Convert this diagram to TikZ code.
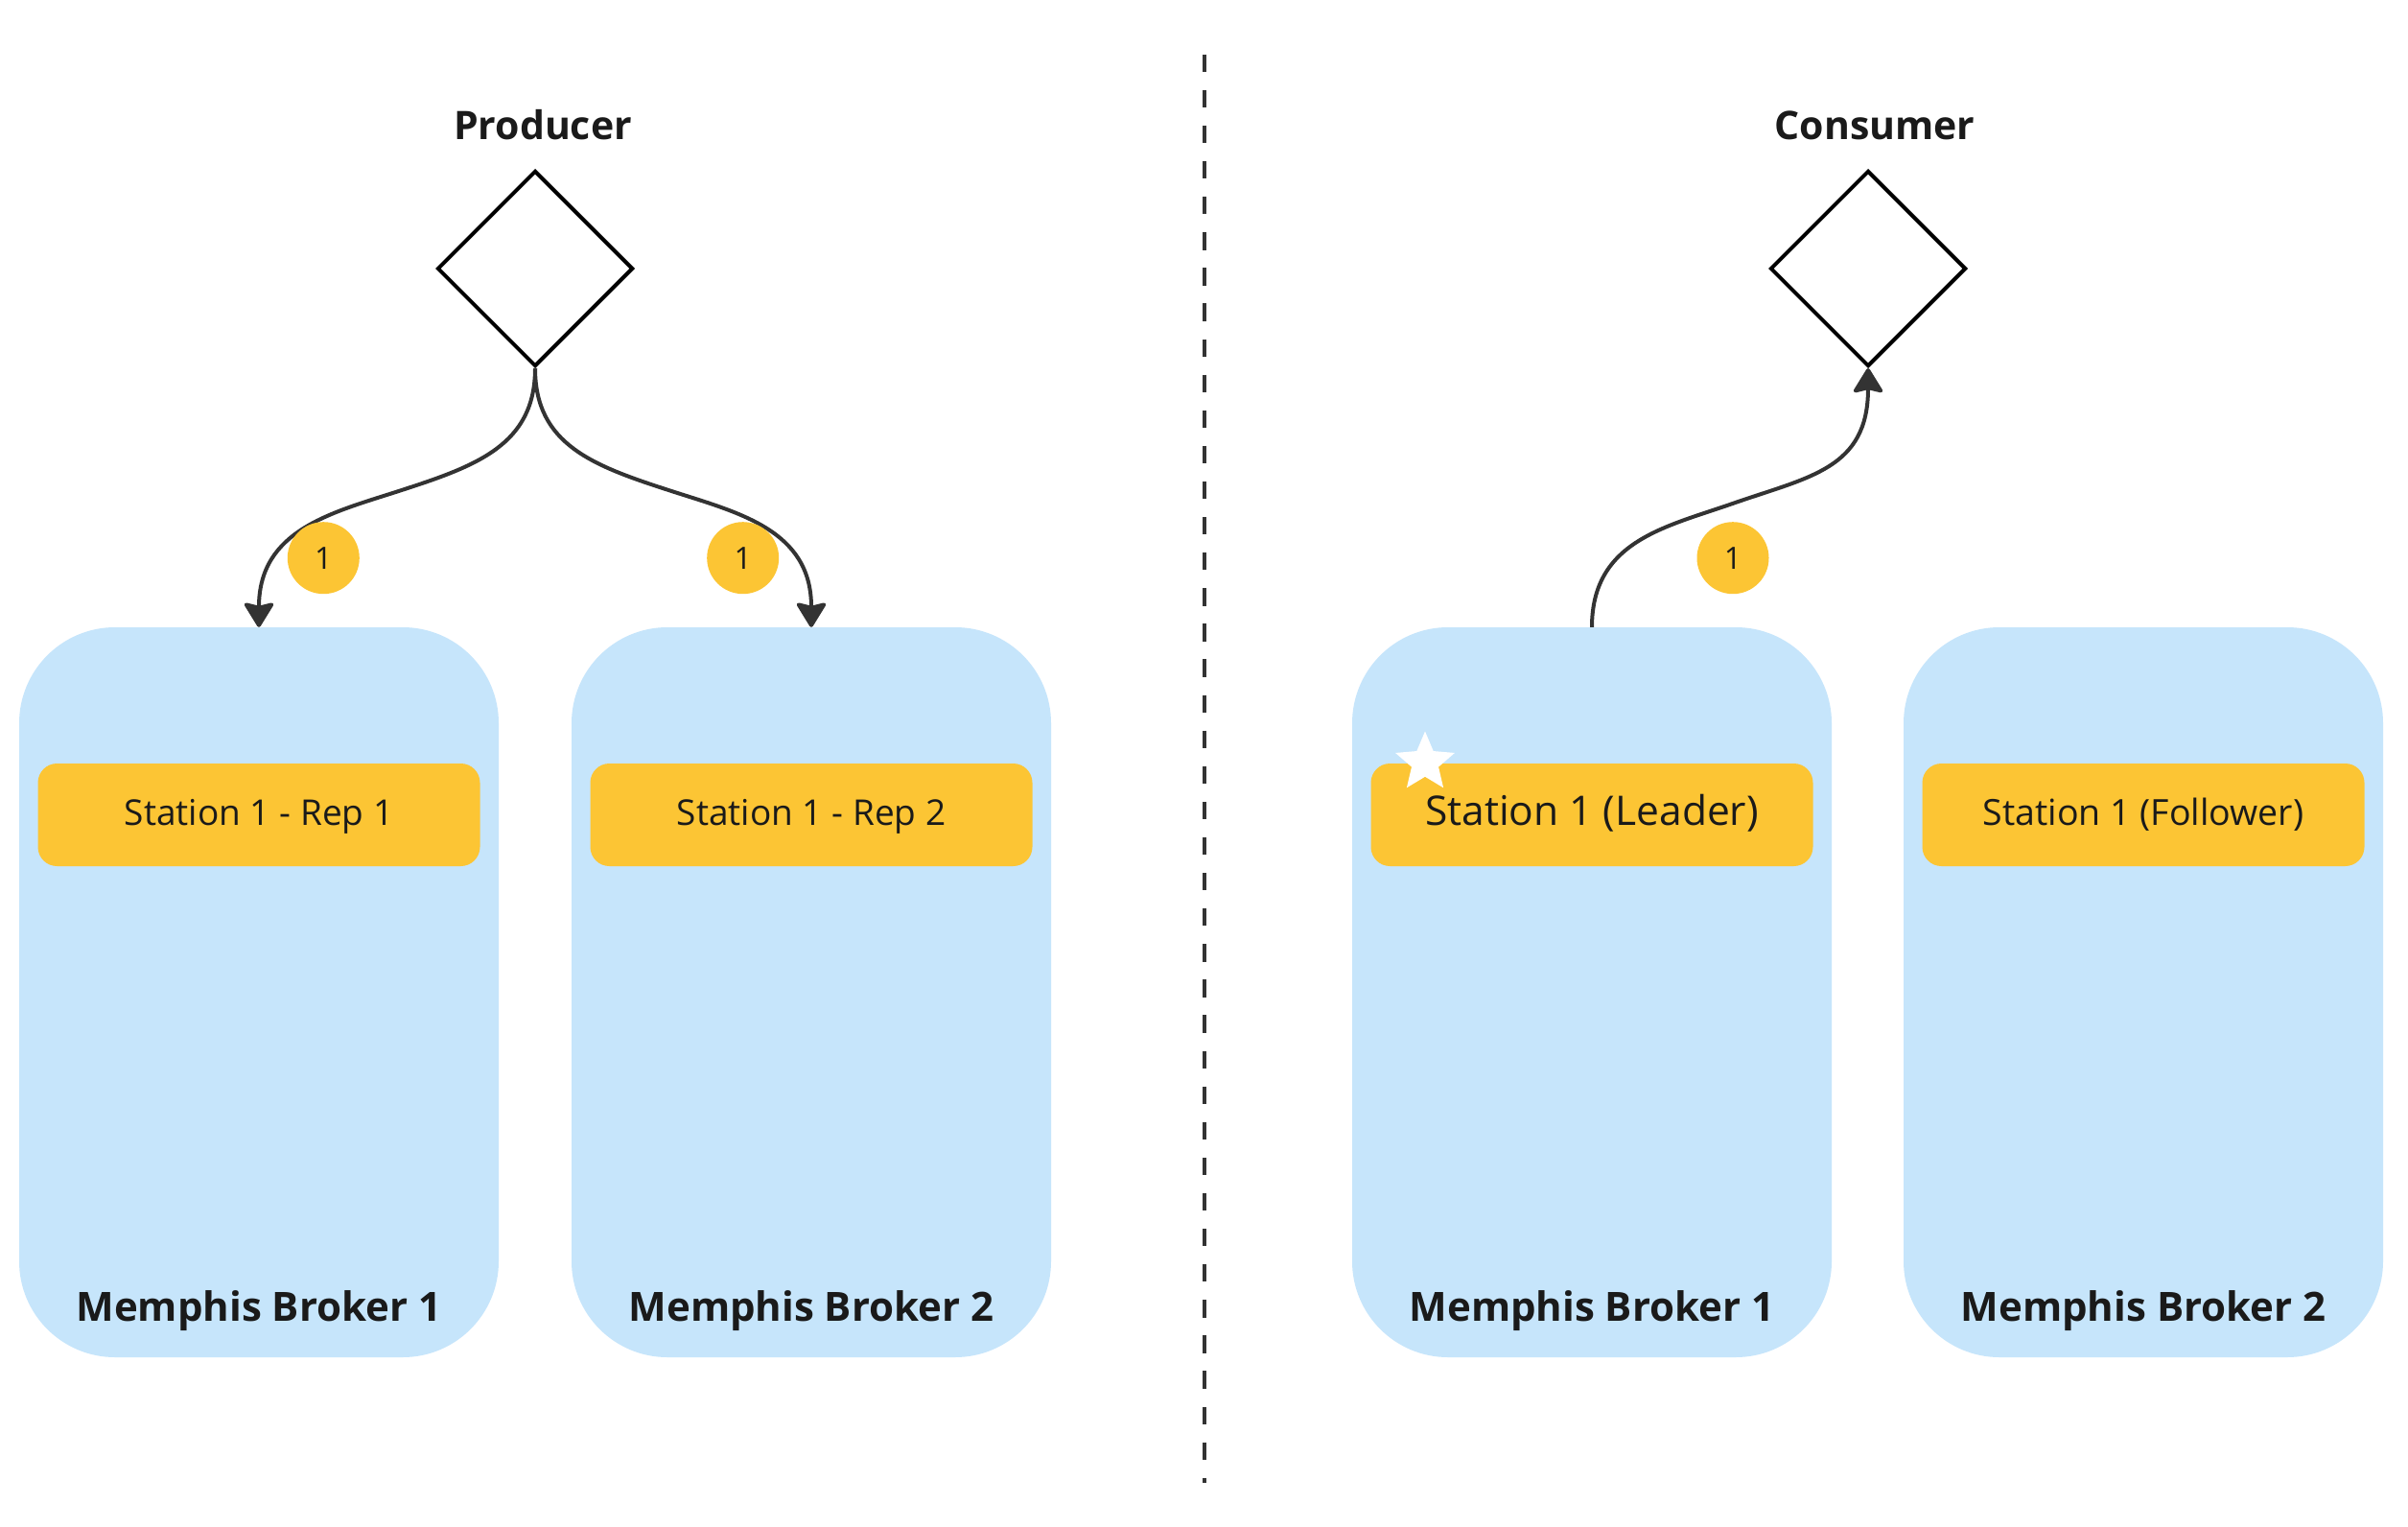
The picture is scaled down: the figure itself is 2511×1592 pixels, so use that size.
\documentclass[tikz,border=0pt]{standalone}
\usepackage{fontspec}
\setmainfont{Open Sans}
\usetikzlibrary{shapes.geometric,arrows.meta}
\definecolor{boxblue}{HTML}{C6E5FB}
\definecolor{stationyellow}{HTML}{FCC534}
\definecolor{ink}{HTML}{1A1A1A}
\definecolor{linegray}{HTML}{333333}
\begin{document}
\begin{tikzpicture}[x=1pt,y=-1pt,
  broker/.style={rectangle, rounded corners=100pt, fill=boxblue, minimum width=500pt, minimum height=761pt, inner sep=0pt},
  station/.style={rectangle, rounded corners=20pt, fill=stationyellow, minimum width=461pt, minimum height=107pt, inner sep=0pt, text=ink, font=\fontsize{37}{44}\selectfont, text height=26.5pt, text depth=4.3pt},
  leaderstation/.style={station, font=\fontsize{42.5}{50}\selectfont, text height=30.3pt, text depth=8.1pt},
  followerstation/.style={station, font=\fontsize{37.5}{45}\selectfont, text height=26.8pt, text depth=4.6pt},
  brokerlabel/.style={anchor=base, inner sep=0pt, text=ink, font=\fontsize{42}{50}\selectfont\bfseries},
  title/.style={anchor=base, inner sep=0pt, text=ink, font=\fontsize{41}{49}\selectfont\bfseries},
  badge/.style={circle, fill=stationyellow, minimum size=75pt, inner sep=0pt, text=ink, font=\fontsize{32}{38}\selectfont},
  client/.style={diamond, draw=black, line width=4pt, fill=white, minimum width=204pt, minimum height=204pt, inner sep=0pt},
  flow/.style={draw=linegray, line width=4pt, -{Stealth[length=28pt,width=34pt,inset=4pt,round]}},
  divider/.style={draw=linegray, line width=4.6pt, dash pattern=on 18.3pt off 18.8pt},
  leaderstar/.style={star, star points=5, star point ratio=2.2, minimum size=65pt, inner sep=0pt, fill=white}
]
\fill[white] (0,0) rectangle (2511,1592);
\useasboundingbox (0,0) rectangle (2511,1592);

% divider
\coordinate (dtop) at (1256,56.7);
\coordinate (dbot) at (1256,1545.7);
\draw[divider] (dtop) -- (dbot);

% brokers
\node[broker] (b1) at (270,1034.5) {};
\node[broker] (b2) at (846,1034.5) {};
\node[broker] (b3) at (1660,1034.5) {};
\node[broker] (b4) at (2235,1034.5) {};

% stations
\node[station] (s1) at (270,849.5) {Station 1 - Rep 1};
\node[station] (s2) at (846,849.5) {Station 1 - Rep 2};
\node[leaderstation] (s3) at (1660,849.5) {Station 1 (Leader)};
\node[followerstation] (s4) at (2235,849.5) {Station 1 (Follower)};
\node[leaderstar] (star) at (1486,795) {};

% broker labels
\node[brokerlabel] (l1) at (270,1377) {Memphis Broker 1};
\node[brokerlabel] (l2) at (846,1377) {Memphis Broker 2};
\node[brokerlabel] (l3) at (1660,1377) {Memphis Broker 1};
\node[brokerlabel] (l4) at (2235,1377) {Memphis Broker 2};

% clients
\node[title] (ptitle) at (566,146) {Producer};
\node[title] (ctitle) at (1955,146) {Consumer};
\node[client] (prod) at (558,280) {};
\node[client] (cons) at (1948,280) {};

% connectors
\draw[flow] (prod.south) .. controls (558,464) and (496.7,485.8) .. (416.7,511.7)
  .. controls (346.7,534.4) and (270,552) .. (b1.north);
\draw[flow] (prod.south) .. controls (558,464) and (619.3,485.8) .. (699.3,511.7)
  .. controls (769.3,534.4) and (846,552) .. (b2.north);
\draw[flow] (b3.north) .. controls (1660,564) and (1736.7,549.5) .. (1806.7,525)
  .. controls (1886.7,497) and (1948,489) .. (cons.south);

% badges
\node[badge] (n1) at (337.3,581.7) {1};
\node[badge] (n2) at (774.7,581.7) {1};
\node[badge] (n3) at (1807,581.7) {1};
\end{tikzpicture}
\end{document}
